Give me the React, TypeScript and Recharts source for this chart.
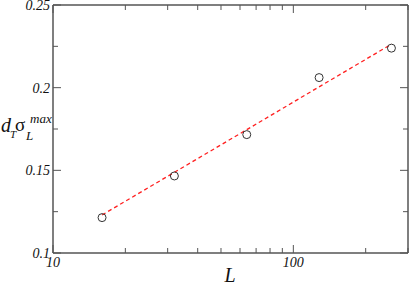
import React from "react";
import { ComposedChart, Line, Scatter, XAxis, YAxis } from "recharts";

// system sizes L and measured d_T * sigma_L^max
const sizes = [16, 32, 64, 128, 256];
const sigmaMax = [0.1214, 0.1466, 0.1716, 0.2061, 0.2239];
// red dashed fit at the same L
const fitLine = [0.123, 0.1488, 0.1746, 0.2005, 0.2263];

const xTicks = [10, 20, 30, 40, 50, 60, 70, 80, 90, 100, 200, 300];
const xMajor = [10, 100];
const yTicks = [0.1, 0.125, 0.15, 0.175, 0.2, 0.225, 0.25];
const yMajor = ["0.1", "0.15", "0.2", "0.25"];

const data = sizes.map((L, i) => ({ L, value: sigmaMax[i], fit: fitLine[i] }));

const FRAME = "#555";
const FONT = "'Liberation Serif', 'DejaVu Serif', serif";

function fmtY(v: number) {
  return String(Math.round(v * 1000) / 1000);
}

function XTick(props: any) {
  const { x, y, payload, side } = props;
  const v = payload.value;
  const major = xMajor.includes(v);
  const len = major ? 8 : 5;
  const dir = side === "bottom" ? -1 : 1;
  return (
    <g>
      <line x1={x} x2={x} y1={y} y2={y + dir * len} stroke={FRAME} strokeWidth={1} />
      {side === "bottom" && major && (
        <text x={x} y={y + 14} textAnchor="middle" fontFamily={FONT} fontStyle="italic" fontSize={14} fill="#111">
          {v}
        </text>
      )}
    </g>
  );
}

function YTick(props: any) {
  const { x, y, payload, side } = props;
  const label = fmtY(payload.value);
  const major = yMajor.includes(label);
  const len = major ? 8 : 5;
  const dir = side === "left" ? 1 : -1;
  return (
    <g>
      <line x1={x} x2={x + dir * len} y1={y} y2={y} stroke={FRAME} strokeWidth={1} />
      {side === "left" && major && (
        <text x={x - 3} y={y + 5} textAnchor="end" fontFamily={FONT} fontStyle="italic" fontSize={14} fill="#111">
          {label}
        </text>
      )}
    </g>
  );
}

function Circle(props: any) {
  const { cx, cy } = props;
  if (cx == null || cy == null) return null;
  return <circle cx={cx} cy={cy} r={4} fill="none" stroke="#333" strokeWidth={1} />;
}

function YLabel() {
  return (
    <text fontFamily={FONT} fill="#111">
      <tspan x={1} y={132} fontStyle="italic" fontSize={20}>d</tspan>
      <tspan x={10} y={138} fontStyle="italic" fontSize={11}>T</tspan>
      <tspan x={15} y={131} fontSize={19}>σ</tspan>
      <tspan x={26} y={140} fontStyle="italic" fontSize={13}>L</tspan>
      <tspan x={30} y={123} fontStyle="italic" fontSize={13}>max</tspan>
    </text>
  );
}

function XLabel() {
  return (
    <text x={230} y={282} textAnchor="middle" fontFamily={FONT} fontStyle="italic" fontSize={20} fill="#111">
      L
    </text>
  );
}

export default function App() {
  return (
    <div style={{ position: "absolute", left: 0, top: 0, background: "#fff" }}>
      <ComposedChart width={409} height={285} data={data} margin={{ top: 4, right: 0, bottom: 0, left: 0 }}>
        <XAxis
          xAxisId="b"
          dataKey="L"
          type="number"
          scale="log"
          domain={[10, 300]}
          allowDataOverflow
          ticks={xTicks}
          interval={0}
          height={32}
          tickSize={0}
          tickMargin={0}
          tickLine={false}
          axisLine={{ stroke: FRAME, strokeWidth: 1.5 }}
          tick={<XTick side="bottom" />}
          label={<XLabel />}
        />
        <XAxis
          xAxisId="t"
          orientation="top"
          dataKey="L"
          type="number"
          scale="log"
          domain={[10, 300]}
          allowDataOverflow
          ticks={xTicks}
          interval={0}
          height={1}
          tickSize={0}
          tickMargin={0}
          tickLine={false}
          axisLine={{ stroke: FRAME, strokeWidth: 1.5 }}
          tick={<XTick side="top" />}
        />
        <YAxis
          yAxisId="l"
          type="number"
          domain={[0.1, 0.25]}
          allowDataOverflow
          ticks={yTicks}
          interval={0}
          width={53}
          tickSize={0}
          tickMargin={0}
          tickLine={false}
          axisLine={{ stroke: FRAME, strokeWidth: 1.5 }}
          tick={<YTick side="left" />}
          label={<YLabel />}
        />
        <YAxis
          yAxisId="r"
          orientation="right"
          type="number"
          domain={[0.1, 0.25]}
          allowDataOverflow
          ticks={yTicks}
          interval={0}
          width={1}
          tickSize={0}
          tickMargin={0}
          tickLine={false}
          axisLine={{ stroke: FRAME, strokeWidth: 1.5 }}
          tick={<YTick side="right" />}
        />
        <Line
          xAxisId="b"
          yAxisId="l"
          type="linear"
          dataKey="fit"
          stroke="#ff2020"
          strokeWidth={1.3}
          strokeDasharray="4 3"
          dot={false}
          activeDot={false}
          isAnimationActive={false}
        />
        <Scatter
          xAxisId="b"
          yAxisId="l"
          dataKey="value"
          shape={<Circle />}
          isAnimationActive={false}
        />
      </ComposedChart>
    </div>
  );
}
